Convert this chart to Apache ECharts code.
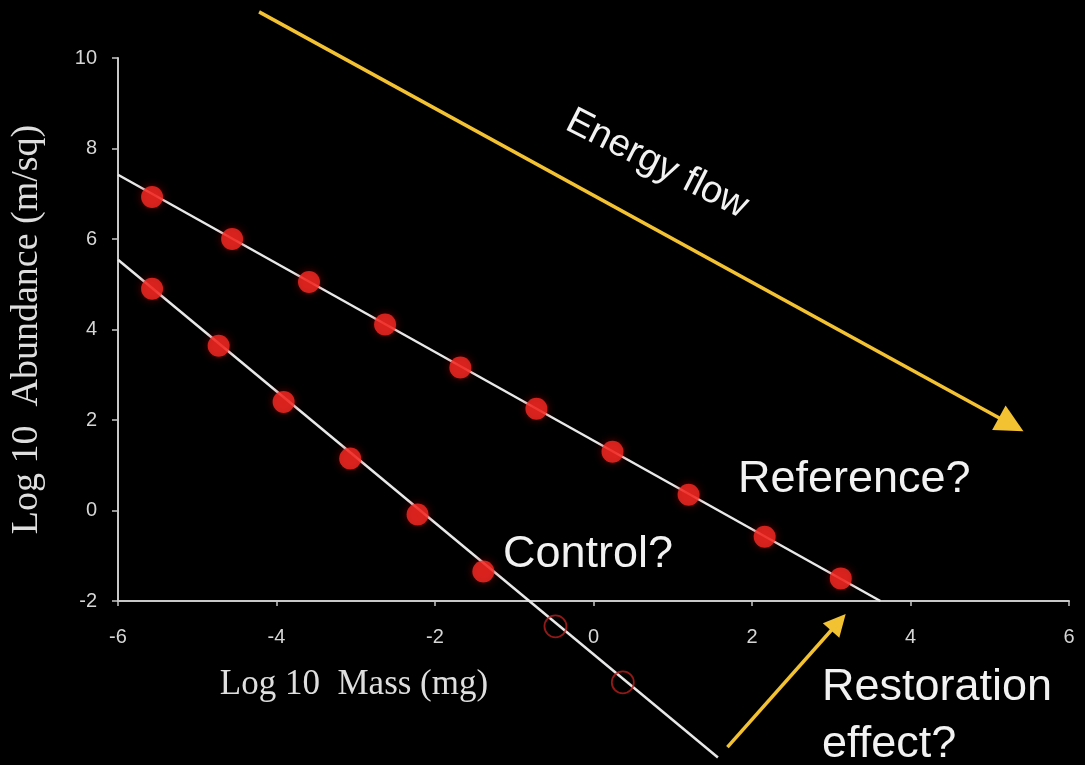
<!DOCTYPE html>
<html>
<head>
<meta charset="utf-8">
<style>
  html, body { margin: 0; padding: 0; background: #000; }
  #chart { width: 1085px; height: 765px; }
</style>
<script src="https://cdn.jsdelivr.net/npm/echarts@6/dist/echarts.min.js"></script>
</head>
<body>
<div id="chart"></div>
<script>
// ---- data ----
const xTicks = [-6, -4, -2, 0, 2, 4, 6];
const yTicks = [-2, 0, 2, 4, 6, 8, 10];

const referenceMass = [-5.57, -4.56, -3.59, -2.63, -1.68, -0.72, 0.24, 1.20, 2.16, 3.12];
const referenceAbundance = [6.93, 6.00, 5.05, 4.11, 3.16, 2.25, 1.30, 0.35, -0.58, -1.50];

const controlMass = [-5.57, -4.73, -3.91, -3.07, -2.22, -1.39];
const controlAbundance = [4.90, 3.64, 2.40, 1.15, -0.09, -1.35];

const restoredMass = [-0.48, 0.37];
const restoredAbundance = [-2.56, -3.80];

const referenceFitX = [-6, 3.62];
const referenceFitY = [7.42, -2];
const controlFitX = [-6, 1.57];
const controlFitY = [5.54, -5.46];

const energyArrowX = [-4.22, 5.27];
const energyArrowY = [11.02, 1.90];
const restorationArrowX = [1.69, 3.09];
const restorationArrowY = [-5.23, -2.47];

const zip = (xs, ys) => xs.map((x, i) => [x, ys[i]]);

const chart = echarts.init(document.getElementById('chart'), null, { renderer: 'canvas' });

const sans = '"Liberation Sans", Arial, Helvetica, sans-serif';
const serif = '"Liberation Serif", "Times New Roman", serif';
const yellow = '#f3c232';

chart.setOption({
  backgroundColor: '#000000',
  animation: false,
  grid: { left: 117, right: 16, top: 58, bottom: 164 },
  xAxis: {
    type: 'value',
    min: xTicks[0], max: xTicks[xTicks.length - 1], interval: 2,
    axisLine: { show: true, onZero: false, lineStyle: { color: '#c8c8c8', width: 2 } },
    axisTick: { show: true, length: 5, lineStyle: { color: '#c8c8c8', width: 1.5 } },
    axisLabel: { color: '#d6d6d6', fontFamily: sans, fontSize: 20, margin: 26 },
    splitLine: { show: false }
  },
  yAxis: {
    type: 'value',
    min: yTicks[0], max: yTicks[yTicks.length - 1], interval: 2,
    name: 'Log 10  Abundance (m/sq)',
    nameLocation: 'middle',
    nameRotate: 90,
    nameGap: 72,
    nameTextStyle: { color: '#dedede', fontFamily: serif, fontSize: 38 },
    axisLine: { show: true, onZero: false, lineStyle: { color: '#c8c8c8', width: 2 } },
    axisTick: { show: true, length: 6, lineStyle: { color: '#c8c8c8', width: 1.5 } },
    axisLabel: { color: '#d6d6d6', fontFamily: sans, fontSize: 20, margin: 21 },
    splitLine: { show: false }
  },
  series: [
    {
      type: 'line', name: 'Reference fit', data: zip(referenceFitX, referenceFitY),
      symbol: 'none', clip: false, z: 2,
      lineStyle: { color: '#e8e8e8', width: 2.5 }
    },
    {
      type: 'line', name: 'Control fit', data: zip(controlFitX, controlFitY),
      symbol: 'none', clip: false, z: 2,
      lineStyle: { color: '#e8e8e8', width: 2.5 }
    },
    {
      type: 'scatter', name: 'Reference', data: zip(referenceMass, referenceAbundance),
      symbolSize: 22, z: 3,
      itemStyle: { color: '#fa2a24', shadowBlur: 8, shadowColor: 'rgba(170,0,0,0.7)' }
    },
    {
      type: 'scatter', name: 'Control', data: zip(controlMass, controlAbundance),
      symbolSize: 22, z: 3,
      itemStyle: { color: '#fa2a24', shadowBlur: 8, shadowColor: 'rgba(170,0,0,0.7)' }
    },
    {
      type: 'scatter', name: 'Restored', data: zip(restoredMass, restoredAbundance),
      symbolSize: 22, clip: false, z: 3,
      itemStyle: { color: 'rgba(0,0,0,0)', borderColor: '#b81e1e', borderWidth: 1.8 }
    },
    {
      type: 'lines', coordinateSystem: 'cartesian2d', clip: false, z: 4,
      symbol: ['none', 'triangle'], symbolSize: [30, 28],
      lineStyle: { color: yellow, width: 3.5, opacity: 1 },
      data: [
        { coords: zip(energyArrowX, energyArrowY) },
        { coords: zip(restorationArrowX, restorationArrowY), symbolSize: [22, 22] }
      ]
    }
  ],
  graphic: [
    {
      type: 'text', x: 354, y: 685,
      style: { text: 'Log 10  Mass (mg)', font: '35px ' + serif, fill: '#dedede', align: 'center', verticalAlign: 'middle' }
    },
    {
      type: 'text', x: 657, y: 164, rotation: -0.47,
      style: { text: 'Energy flow', font: '38px ' + sans, fill: '#f2f2f2', align: 'center', verticalAlign: 'middle' }
    },
    {
      type: 'text', x: 738, y: 480,
      style: { text: 'Reference?', font: '45px ' + sans, fill: '#f2f2f2', align: 'left', verticalAlign: 'middle' }
    },
    {
      type: 'text', x: 503, y: 555,
      style: { text: 'Control?', font: '45px ' + sans, fill: '#f2f2f2', align: 'left', verticalAlign: 'middle' }
    },
    {
      type: 'text', x: 822, y: 688,
      style: { text: 'Restoration', font: '45px ' + sans, fill: '#f2f2f2', align: 'left', verticalAlign: 'middle' }
    },
    {
      type: 'text', x: 822, y: 745,
      style: { text: 'effect?', font: '45px ' + sans, fill: '#f2f2f2', align: 'left', verticalAlign: 'middle' }
    }
  ]
});
</script>
</body>
</html>
